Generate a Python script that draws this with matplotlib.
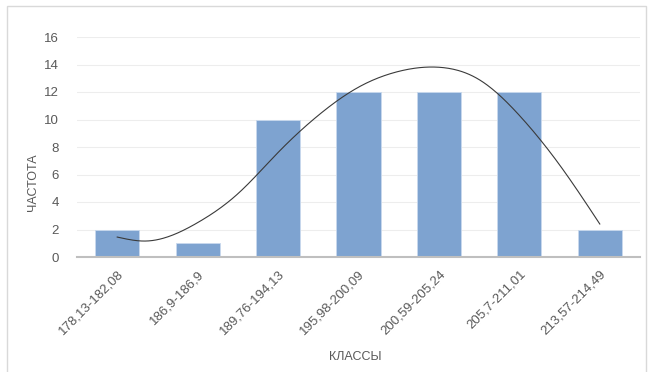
import numpy as np
import matplotlib.pyplot as plt
from matplotlib.patches import Rectangle

plt.rcParams['font.family'] = ['Liberation Sans', 'DejaVu Sans']

# --- data ---
classes = ['178,13-182,08', '186,9-186,9', '189,76-194,13', '195,98-200,09',
           '200,59-205,24', '205,7-211,01', '213,57-214,49']
freq = [2, 1, 10, 12, 12, 12, 2]

# smooth curve (x in category units)
curve_x = [0.0, 0.35, 1.0, 1.5, 2.0, 2.5, 3.0, 3.5, 4.0, 4.5, 5.0, 5.5, 6.0]
curve_y = [1.45, 1.16, 2.5, 4.6, 7.6, 10.3, 12.35, 13.5, 13.8, 12.9, 10.3, 6.7, 2.4]


def natural_spline(xs, ys, n=400):
    xs = np.asarray(xs, float)
    ys = np.asarray(ys, float)
    k = len(xs)
    h = np.diff(xs)
    A = np.zeros((k, k))
    b = np.zeros(k)
    A[0, 0] = A[-1, -1] = 1
    for i in range(1, k - 1):
        A[i, i - 1] = h[i - 1]
        A[i, i] = 2 * (h[i - 1] + h[i])
        A[i, i + 1] = h[i]
        b[i] = 6 * ((ys[i + 1] - ys[i]) / h[i] - (ys[i] - ys[i - 1]) / h[i - 1])
    m = np.linalg.solve(A, b)
    xx = np.linspace(xs[0], xs[-1], n)
    j = np.clip(np.searchsorted(xs, xx) - 1, 0, k - 2)
    t0 = xs[j + 1] - xx
    t1 = xx - xs[j]
    hj = h[j]
    yy = (m[j] * t0 ** 3 + m[j + 1] * t1 ** 3) / (6 * hj) \
        + (ys[j] / hj - m[j] * hj / 6) * t0 + (ys[j + 1] / hj - m[j + 1] * hj / 6) * t1
    return xx, yy


fig = plt.figure(figsize=(6.52, 3.72), dpi=100)
ax = fig.add_axes([77 / 652, 1 - 257 / 372, (640 - 77) / 652, (257 - 37) / 372])

x = np.arange(len(classes))
ax.bar(x, freq, width=0.55, color='#7EA3D0', edgecolor='#C9D9EE', linewidth=0.6, zorder=2)

sx, sy = natural_spline(curve_x, curve_y)
ax.plot(sx, sy, color='#3A3A3A', lw=0.8, zorder=3)

ax.set_xlim(-0.5, len(classes) - 0.5)
ax.set_ylim(0, 16)
ax.set_yticks(range(0, 17, 2))
ax.set_xticks(x)
ax.set_xticklabels(classes, rotation=45, ha='right', rotation_mode='anchor',
                   fontsize=9.5, color='#595959')
ax.tick_params(axis='x', length=0, pad=8)
ax.tick_params(axis='y', length=0, pad=13, labelsize=9.5, labelcolor='#595959')
ax.yaxis.grid(True, color='#EDEDED', lw=0.8, zorder=0)
ax.set_axisbelow(True)
for s in ('left', 'right', 'top'):
    ax.spines[s].set_visible(False)
ax.spines['bottom'].set_color('#BFBFBF')
ax.spines['bottom'].set_linewidth(1.5)

fig.text(355 / 652, 1 - 357 / 372, 'КЛАССЫ', ha='center', va='center',
         fontsize=9, color='#595959')
fig.text(33 / 652, 1 - 182 / 372, 'ЧАСТОТА', ha='center', va='center',
         rotation=90, fontsize=9, color='#595959')

fig.patches.append(Rectangle((7 / 652, -0.05), (646 - 7) / 652, 1 - 6 / 372 + 0.05,
                             transform=fig.transFigure, fill=False,
                             edgecolor='#D9D9D9', lw=1.0))

fig.savefig('out.png', dpi=100)
